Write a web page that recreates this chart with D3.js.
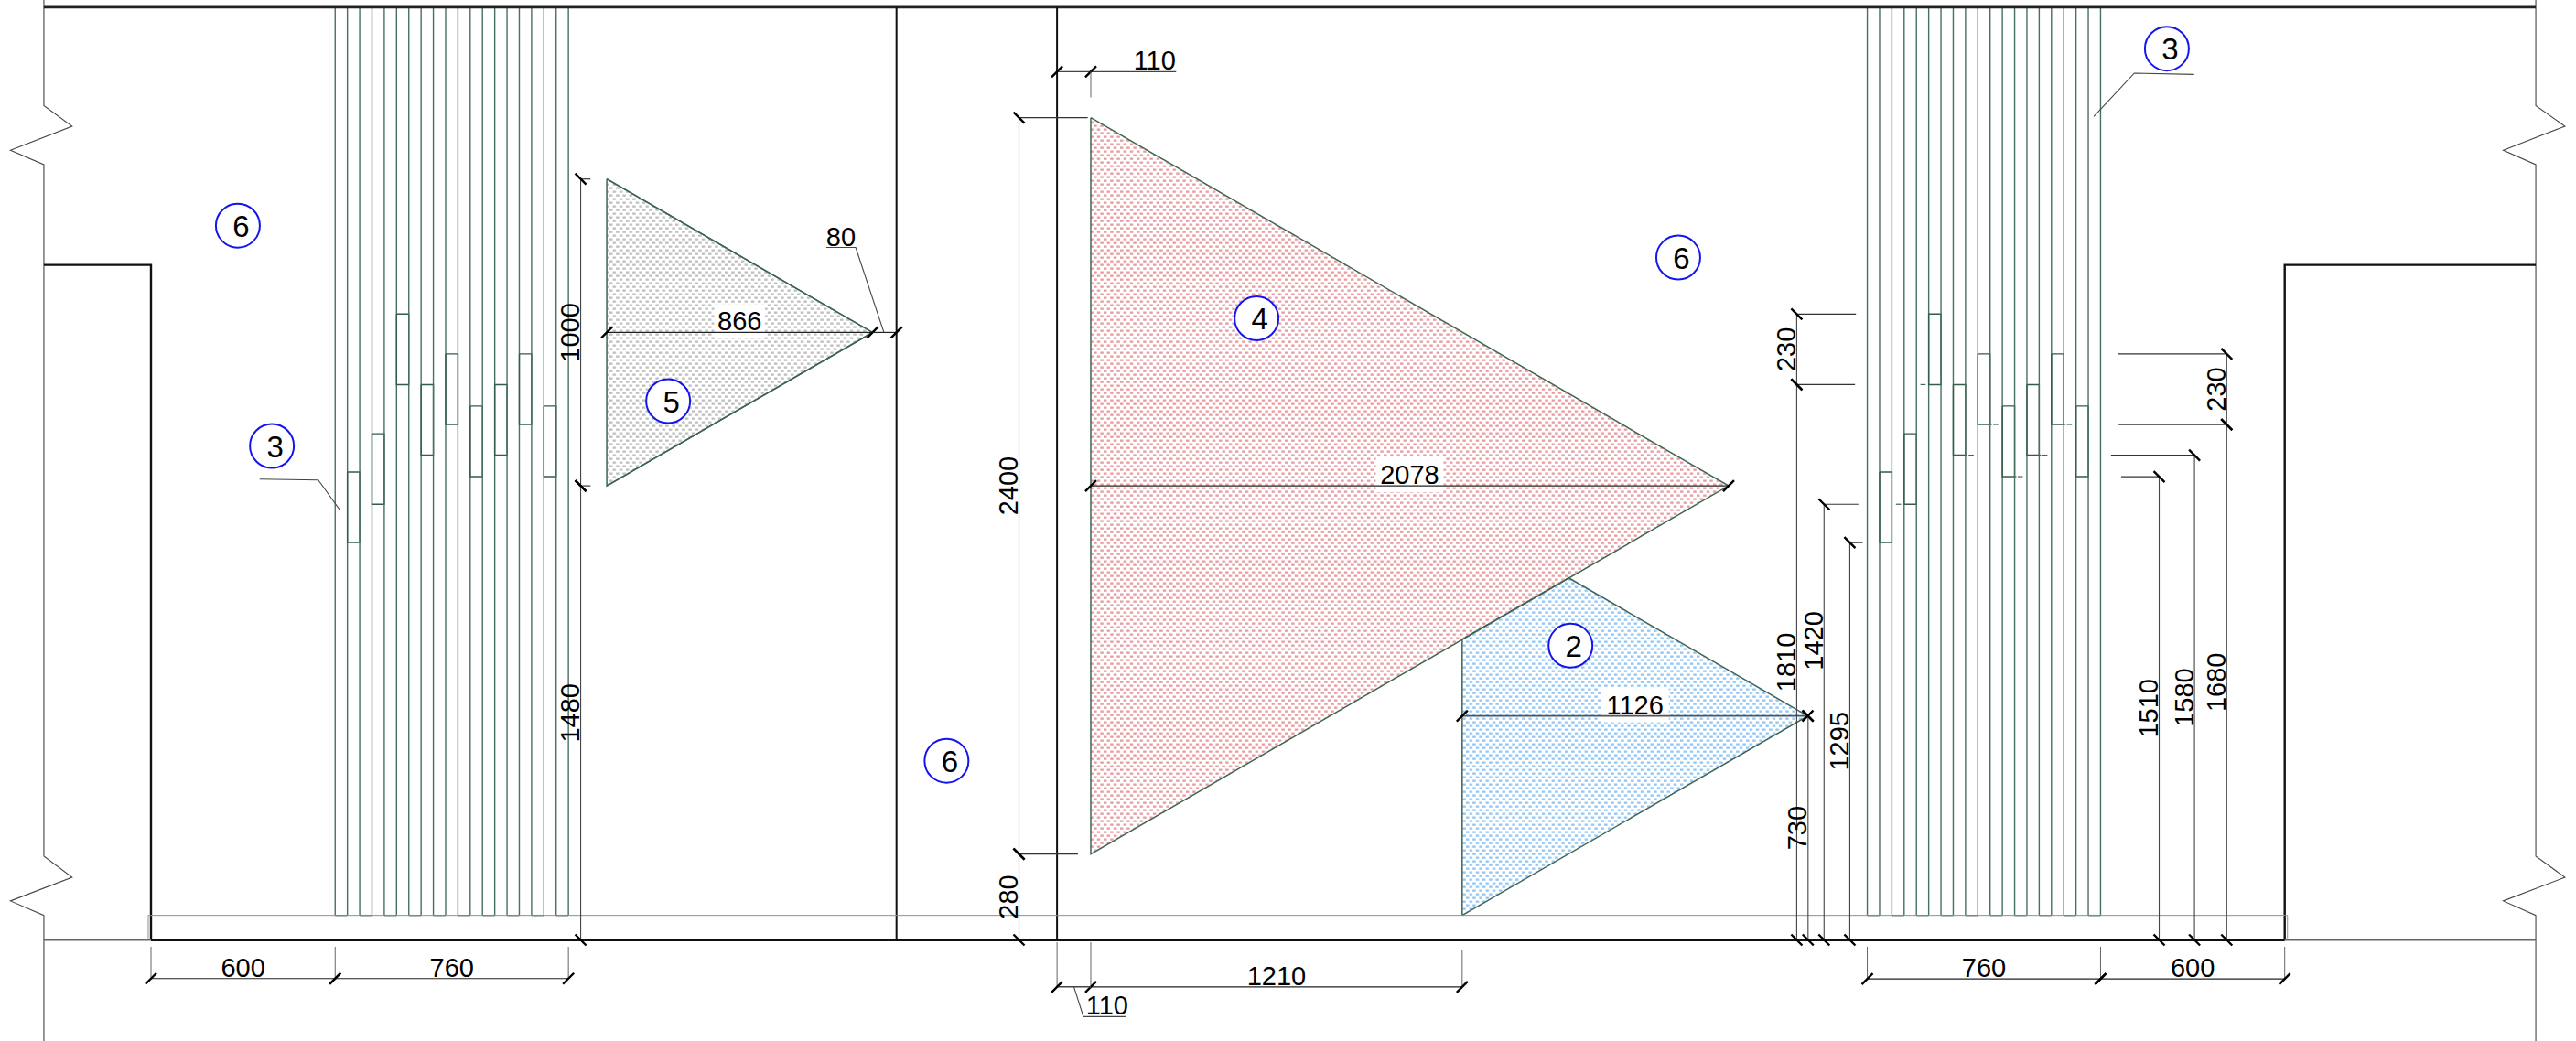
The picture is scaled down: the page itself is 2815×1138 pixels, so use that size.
<!DOCTYPE html>
<html><head><meta charset="utf-8">
<script src="https://cdn.jsdelivr.net/npm/d3@7"></script>
<style>html,body{margin:0;padding:0;background:#fff}svg{display:block}text{font-family:"Liberation Sans",Arial,sans-serif}</style>
</head><body><div id="c"></div>
<script>
// All values are millimetres (x from the left wall, y up from the floor)
const wallLeft = 0, wallRight = 6952, wallTop = 2200, midWalls = [2429, 2952];
const outerLeft = -349, outerRight = 7770, ceiling = 3040, kerb = 80;
const leftStripStart = 600, rightStripStart = 5592, stripPitch = 40, stripLineCount = 20;
const breakBottoms = [1295, 1420, 1810, 1580, 1680, 1510, 1580, 1680, 1510];
const breakHeight = 230;
const tri5 = [[1485, 2480], [2351, 1980], [1485, 1480]];
const tri4 = [[3062, 2680], [5140, 1480], [3062, 280]];
const tri2 = [[4272, 80], [5398, 730], [4619, 1180], [4272, 980]];
const hDims = [
  {y: -126, a: 0, b: 600, t: "600"}, {y: -126, a: 600, b: 1360, t: "760"},
  {y: -127, a: 5592, b: 6352, t: "760"}, {y: -127, a: 6352, b: 6952, t: "600"},
  {y: -153, a: 3062, b: 4272, t: "1210"},
  {y: 1980, a: 1485, b: 2351, t: "866", bg: 1}, {y: 1480, a: 3062, b: 5140, t: "2078", bg: 1},
  {y: 730, a: 4272, b: 5398, t: "1126", bg: 1}
];
const vDims = [
  {x: 1400, a: 1480, b: 2480, t: "1000"}, {x: 1400, a: 0, b: 1480, t: "1480"},
  {x: 2828, a: 280, b: 2680, t: "2400"}, {x: 2828, a: 0, b: 280, t: "280"},
  {x: 5362, a: 1810, b: 2040, t: "230"}, {x: 5362, a: 0, b: 1810, t: "1810"},
  {x: 5399, a: 0, b: 730, t: "730"},
  {x: 5451, a: 0, b: 1420, t: "1420", at: 975}, {x: 5535, a: 0, b: 1295, t: "1295"},
  {x: 6543, a: 0, b: 1510, t: "1510"}, {x: 6658, a: 0, b: 1580, t: "1580"},
  {x: 6763, a: 1680, b: 1910, t: "230"}, {x: 6763, a: 0, b: 1680, t: "1680"}
];
const vExt = [
  [1400, 1432, 2480], [1400, 1432, 1480],
  [2828, 3052, 2680], [2828, 3020, 280],
  [5362, 5555, 2040], [5362, 5552, 1810], [5451, 5563, 1420], [5535, 5577, 1295],
  [6543, 6419, 1510], [6658, 6386, 1580], [6763, 6408, 1910], [6763, 6411, 1680]
];
const hExt = [[0, 1035], [600, 1035], [1360, 1035], [5592, 1035], [6352, 1035], [6952, 1035],
  [2952, 1030], [3062, 1030], [4272, 1039]];
const circles = [
  {n: "6", x: 283, y: 2328}, {n: "5", x: 1685, y: 1756}, {n: "3", x: 394, y: 1610},
  {n: "4", x: 3602, y: 2026}, {n: "6", x: 4976, y: 2224}, {n: "2", x: 4625, y: 959},
  {n: "6", x: 2592, y: 584}, {n: "3", x: 6568, y: 2905}
];
const leaders = [
  [[354, 1502], [545, 1499], [617, 1399]],
  [[6657, 2821], [6462, 2825], [6330, 2684]]
];
const leader80 = [[2200, 2257], [2296, 2257], [2388, 1980]];
const leader110Top = [[2952, 2830], [3340, 2830]];
const leader110Bot = [[3007, -153], [3038, -250], [3175, -250]];
const notchLeft = [[outerLeft, 2719], [-257, 2652], [-458, 2574], [outerLeft, 2527]];
const notchLeftLow = [[outerLeft, 273], [-257, 204], [-458, 127], [outerLeft, 80]];
const notchRight = [[outerRight, 2719], [7865, 2652], [7664, 2574], [outerRight, 2527]];
const notchRightLow = [[outerRight, 273], [7865, 204], [7664, 127], [outerRight, 80]];
// line index of the right-hand strip, level, side of the short dash
const rightDash = [[3, 1420, -1], [5, 1810, -1], [7, 1580, 1], [9, 1680, 1], [11, 1510, 1], [13, 1580, 1], [15, 1680, 1]];

const W = 2815, H = 1138, PX = 0.3354;
const x = d3.scaleLinear().domain([0, 1000]).range([165, 165 + 1000 * PX]);
const y = d3.scaleLinear().domain([0, 1000]).range([1027.5, 1027.5 - 1000 * PX]);
const line = d3.line().x(d => x(d[0])).y(d => y(d[1]));
const svg = d3.select("#c").append("svg").attr("width", W).attr("height", H);
const defs = svg.append("defs");
[["pGray", "#bebebe"], ["pRed", "#e89a9e"], ["pBlue", "#90c6f6"]].forEach(([id, c]) => {
  const p = defs.append("pattern").attr("id", id).attr("patternUnits", "userSpaceOnUse").attr("width", 7.2).attr("height", 8);
  p.append("rect").attr("x", 0).attr("y", 0.5).attr("width", 3.4).attr("height", 2.3).attr("fill", c);
  p.append("rect").attr("x", 3.6).attr("y", 4.5).attr("width", 3.4).attr("height", 2.3).attr("fill", c);
});
const BLACK = "#111", GRAY = "#666", GREEN = "#3e6655", GREEN_DARK = "#345c4a", GREEN_SOFT = "#47705f";
const path = (pts, stroke, w, fill) => svg.append("path").attr("d", line(pts)).attr("fill", fill || "none")
  .attr("stroke", stroke).attr("stroke-width", w);
const seg = (x1, y1, x2, y2, stroke, w) => svg.append("line").attr("x1", x1).attr("y1", y1).attr("x2", x2).attr("y2", y2)
  .attr("stroke", stroke).attr("stroke-width", w);

// hatched panels
path(tri5, GREEN, 1.5, "url(#pGray)");
path(tri2.concat([tri2[0]]), GREEN, 1.5, "url(#pBlue)");
path(tri4.concat([tri4[0]]), GREEN, 1.5, "url(#pRed)");
path(tri5.concat([tri5[0]]), GREEN, 1.5);

// strips
[leftStripStart, rightStripStart].forEach(start => {
  d3.range(stripLineCount).forEach(i => {
    const xm = start + i * stripPitch;
    path([[xm, kerb], [xm, ceiling]], GREEN_SOFT, 1.4);
    if (i % 2 === 0 && i < stripLineCount - 1) path([[xm, kerb], [xm + stripPitch, kerb]], GREEN, 1.4);
    if (i % 2 === 1 && i < stripLineCount - 1) {
      const b = breakBottoms[(i - 1) / 2], t = b + breakHeight, xn = xm + stripPitch;
      path([[xm, t], [xn, t], [xn, b], [xm, b], [xm, t]], GREEN_DARK, 1.4);
    }
  });
});
// short dashes beside the right-hand strip breaks
rightDash.forEach(([i, v, d]) => {
  const xm = rightStripStart + (d < 0 ? i : i + 1) * stripPitch;
  if (d > 0) path([[xm, v], [xm + 0.15 * stripPitch, v]], GREEN, 1.2);
  path([[xm + d * 0.25 * stripPitch, v], [xm + d * 0.67 * stripPitch, v]], GREEN, 1.2);
});

// structure
path([[outerLeft, -450], [outerLeft, notchLeftLow[3][1]]].concat(notchLeftLow.slice().reverse().slice(1), notchLeft.slice().reverse(), [[outerLeft, 3393]]), "#444", 1.1);
path([[outerRight, -450], [outerRight, notchRightLow[3][1]]].concat(notchRightLow.slice().reverse().slice(1), notchRight.slice().reverse(), [[outerRight, 3393]]), "#444", 1.1);
path([[-349, ceiling], [outerRight, ceiling]], "#222", 2.6);
path([[outerLeft, wallTop], [wallLeft, wallTop], [wallLeft, 0]], BLACK, 2.4);
path([[outerRight, wallTop], [wallRight, wallTop], [wallRight, 0]], BLACK, 2.4);
midWalls.forEach(m => path([[m, 0], [m, ceiling]], BLACK, 2));
path([[outerLeft, 0], [wallLeft, 0]], GRAY, 2.2);
path([[wallRight, 0], [outerRight, 0]], GRAY, 2.2);
path([[wallLeft, 0], [wallRight, 0]], BLACK, 3);
path([[-9, 0], [-9, kerb], [wallRight + 9, kerb], [wallRight + 9, 0]], "#8f8f8f", 1);

// ticks
const tick = (cx, cy, kind) => {
  const d = 6;
  if (kind === "/") seg(cx - d, cy + d, cx + d, cy - d, "#000", 2.4);
  else seg(cx - d, cy - d, cx + d, cy + d, "#000", 2.4);
};
const label = (t, cx, cy, rot) => svg.append("text").text(t)
  .attr("text-anchor", "middle").attr("font-size", 29).attr("fill", "#000")
  .attr("transform", `translate(${cx},${cy})` + (rot ? " rotate(-90)" : ""));

// extension lines
hExt.forEach(([m, top]) => {
  const dim = hDims.find(d => d.a === m || d.b === m);
  seg(x(m), top, x(m), dim ? y(dim.y) : y(-153), GRAY, 1);
});
vExt.forEach(([xm, xe, v]) => seg(x(xm), y(v), x(xe), y(v), "#333", 1.2));

// horizontal dimensions
hDims.forEach(d => {
  const mid = (x(d.a) + x(d.b)) / 2, yy = y(d.y);
  if (d.bg) {
    const w = d.t.length * 18.5;
    svg.append("rect").attr("x", mid - w / 2).attr("y", yy - 31).attr("width", w).attr("height", 38).attr("fill", "#fff");
  }
});
hDims.forEach(d => {
  const mid = (x(d.a) + x(d.b)) / 2, yy = y(d.y);
  seg(x(d.a), yy, x(d.b), yy, d.t === "1126" ? "#555" : "#222", d.t === "1126" ? 1.8 : 1.2);
  tick(x(d.a), yy, "/"); tick(x(d.b), yy, "/");
  label(d.t, mid, yy - 2);
});
tick(x(5398), y(730), "\\");

// vertical dimensions
vDims.forEach(d => {
  const xx = x(d.x);
  seg(xx, y(d.a), xx, y(d.b), "#444", 1.1);
  tick(xx, y(d.a), "\\"); tick(xx, y(d.b), "\\");
  label(d.t, xx - 1.5, y(d.at === undefined ? (d.a + d.b) / 2 : d.at), true);
});

// gap dimensions and leaders
seg(x(2351), y(1980), x(2429), y(1980), "#222", 1.2); tick(x(2429), y(1980), "/");
path(leader80, "#444", 1.1); label("80", x(2248), y(2257) - 2);
path(leader110Top, "#444", 1.2); tick(x(2952), y(2830), "/"); tick(x(3062), y(2830), "/");
seg(x(3062), y(2830), x(3062), y(2746), GRAY, 1);
label("110", x(3270), y(2830) - 2);
seg(x(2952), y(-153), x(3062), y(-153), "#444", 1.4); tick(x(2952), y(-153), "/");
path(leader110Bot, "#444", 1.1); label("110", x(3115), y(-250) - 2);
leaders.forEach(l => path(l, "#444", 1.1));

// callouts
const g = svg.selectAll("g.callout").data(circles).join("g").attr("class", "callout")
  .attr("transform", d => `translate(${x(d.x)},${y(d.y)})`);
g.append("circle").attr("r", 24).attr("fill", "#fff").attr("stroke", "#1414ee").attr("stroke-width", 2);
g.append("text").text(d => d.n).attr("text-anchor", "middle").attr("dx", 3.5).attr("dy", 12).attr("font-size", 33).attr("fill", "#000");
</script></body></html>
